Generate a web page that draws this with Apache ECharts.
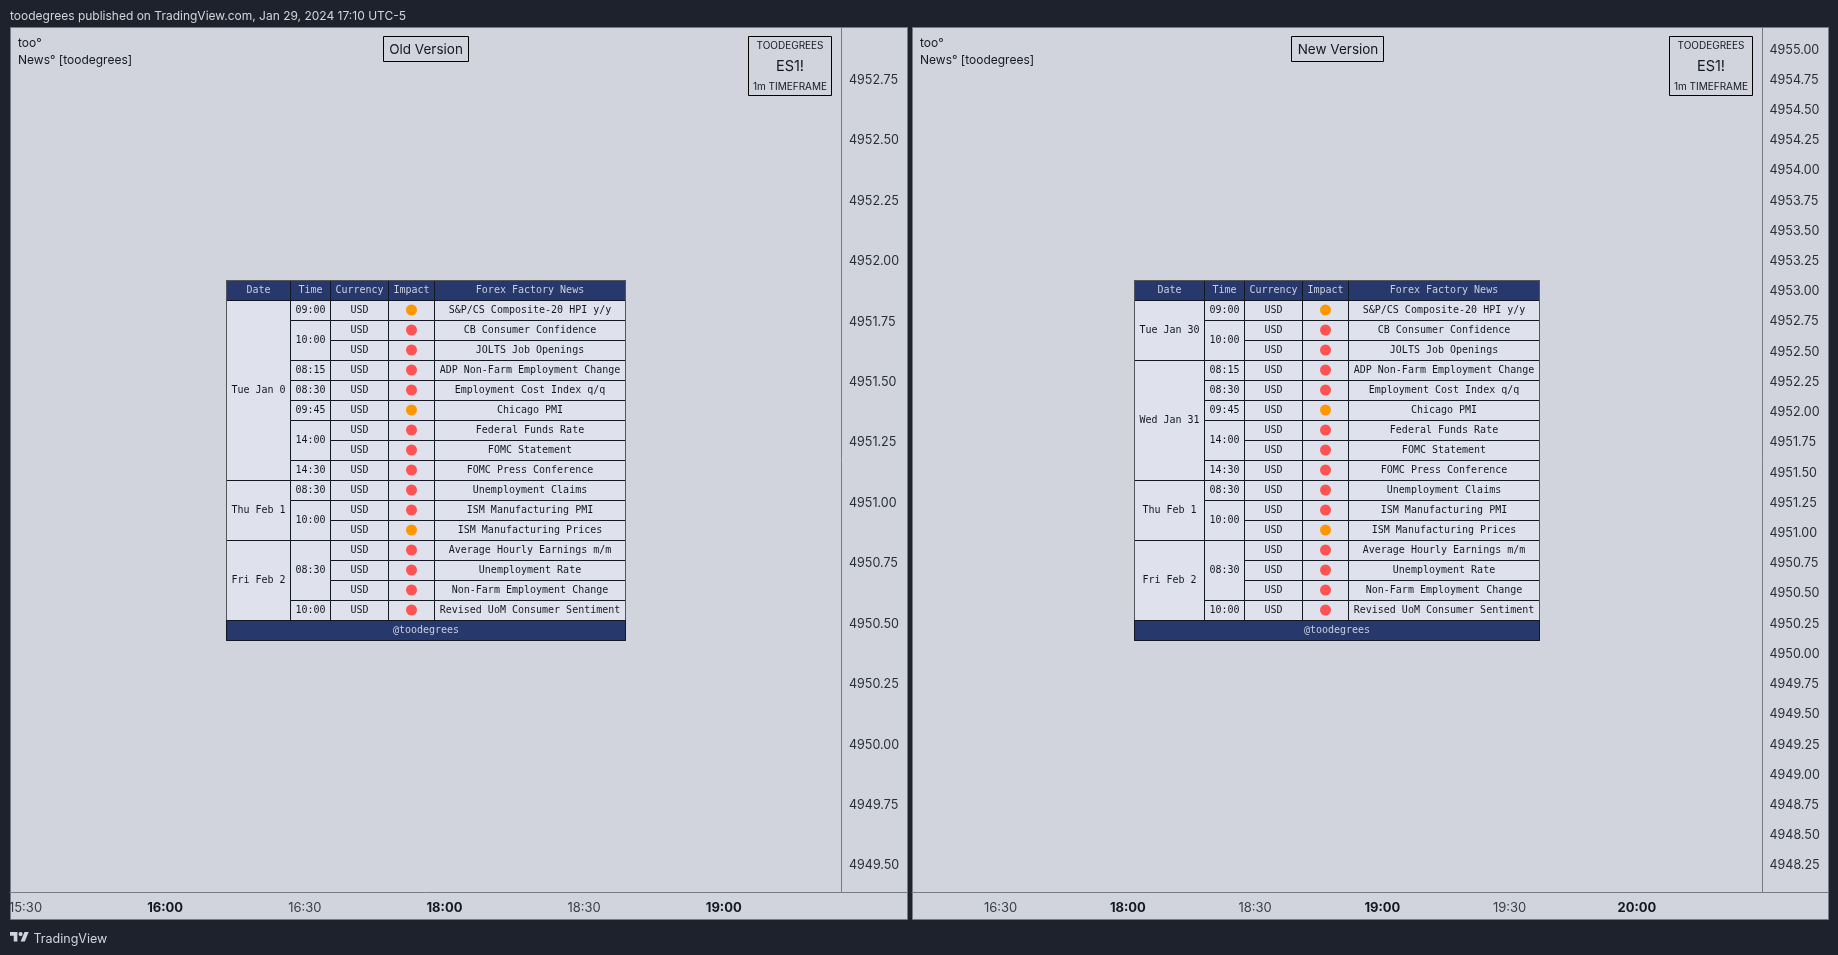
<!DOCTYPE html>
<html>
<head>
<meta charset="utf-8">
<title>News tables</title>
<script src="https://cdn.jsdelivr.net/npm/echarts@6/dist/echarts.min.js"></script>
<style>
html, body { margin: 0; padding: 0; background: #1e222d; }
#main { width: 1838px; height: 955px; }
</style>
</head>
<body>
<div id="main"></div>
<script>
var tableColumns = ['Date', 'Time', 'Currency', 'Impact', 'Forex Factory News'];
var rowKeys = ['r0', 'r1', 'r2', 'r3', 'r4', 'r5', 'r6', 'r7', 'r8', 'r9', 'r10', 'r11', 'r12', 'r13', 'r14', 'r15', 'r16'];
var newsTitles = ['S&P/CS Composite-20 HPI y/y', 'CB Consumer Confidence', 'JOLTS Job Openings', 'ADP Non-Farm Employment Change', 'Employment Cost Index q/q', 'Chicago PMI', 'Federal Funds Rate', 'FOMC Statement', 'FOMC Press Conference', 'Unemployment Claims', 'ISM Manufacturing PMI', 'ISM Manufacturing Prices', 'Average Hourly Earnings m/m', 'Unemployment Rate', 'Non-Farm Employment Change', 'Revised UoM Consumer Sentiment'];
var newsImpact = ['med', 'high', 'high', 'high', 'high', 'med', 'high', 'high', 'high', 'high', 'high', 'med', 'high', 'high', 'high', 'high'];
// [label, first row, last row]
var timeSpans = [['09:00', 0, 0], ['10:00', 1, 2], ['08:15', 3, 3], ['08:30', 4, 4], ['09:45', 5, 5], ['14:00', 6, 7], ['14:30', 8, 8], ['08:30', 9, 9], ['10:00', 10, 11], ['08:30', 12, 14], ['10:00', 15, 15]];
var oldDates = [['Tue Jan 0', 0, 8], ['Thu Feb 1', 9, 11], ['Fri Feb 2', 12, 15]];
var newDates = [['Tue Jan 30', 0, 2], ['Wed Jan 31', 3, 8], ['Thu Feb 1', 9, 11], ['Fri Feb 2', 12, 15]];

var oldPriceTicks = [4952.75, 4952.5, 4952.25, 4952, 4951.75, 4951.5, 4951.25, 4951, 4950.75, 4950.5, 4950.25, 4950, 4949.75, 4949.5];
var newPriceTicks = [4955, 4954.75, 4954.5, 4954.25, 4954, 4953.75, 4953.5, 4953.25, 4953, 4952.75, 4952.5, 4952.25, 4952, 4951.75, 4951.5, 4951.25, 4951, 4950.75, 4950.5, 4950.25, 4950, 4949.75, 4949.5, 4949.25, 4949, 4948.75, 4948.5, 4948.25];
// bar index (1m bars) -> label
var oldTimeBars = [0, 30, 60, 90, 120, 150];
var oldTimeLabels = ['15:30', '16:00', '16:30', '18:00', '18:30', '19:00'];
var newTimeBars = [0, 30, 60, 90, 120, 150];
var newTimeLabels = ['16:30', '18:00', '18:30', '19:00', '19:30', '20:00'];

var MONO = '"DejaVu Sans Mono", monospace';
var SANS = 'Inter, "Liberation Sans", sans-serif';
var PANE = '#d1d4dc', DARK = '#1e222d', EDGE = '#787b86', NAVY = '#27396c', CELL = '#dfe2ec', INK = '#131722';
var impactColors = {high: '#ff5252', med: '#ff9800'};

function tableBody(dates) {
    var cells = [];
    dates.forEach(function (d) {
        cells.push({coord: [0, [d[1], d[2]]], mergeCells: true, value: d[0]});
    });
    timeSpans.forEach(function (t) {
        cells.push({coord: [1, [t[1], t[2]]], mergeCells: true, value: t[0]});
    });
    newsTitles.forEach(function (n, i) {
        cells.push({coord: [2, i], value: 'USD'});
        cells.push({coord: [4, i], value: n});
    });
    cells.push({
        coord: [[0, 4], 16], mergeCells: true, value: '@toodegrees',
        label: {color: '#c9cede'},
        itemStyle: {color: NAVY}
    });
    return cells;
}

function tableMatrix(left, widths, dates) {
    var total = widths.reduce(function (a, b) { return a + b; }, 0);
    return {
        z: 3,
        left: left, top: 280, width: total, height: 360,
        x: {
            levelSize: 20,
            data: tableColumns.map(function (c, i) { return {value: c, size: widths[i]}; }),
            label: {color: '#c9cede', fontFamily: MONO, fontSize: 10},
            itemStyle: {color: NAVY, borderColor: INK, borderWidth: 1},
            dividerLineStyle: {color: INK, width: 1}
        },
        y: {
            show: false,
            data: rowKeys.map(function (k) { return {value: k, size: 20}; })
        },
        body: {
            data: tableBody(dates),
            label: {color: INK, fontFamily: MONO, fontSize: 10},
            itemStyle: {color: CELL, borderColor: INK, borderWidth: 1}
        }
    };
}

function impactSeries(matrixIndex, level) {
    var pts = [];
    newsImpact.forEach(function (v, i) {
        if (v === level) { pts.push([3, i]); }
    });
    return {
        type: 'scatter', coordinateSystem: 'matrix', matrixIndex: matrixIndex,
        symbolSize: 11, silent: true, z: 5,
        itemStyle: {color: impactColors[level], opacity: 1},
        data: pts
    };
}

function priceAxis(gridIndex, min, max, ticks) {
    return {
        type: 'value', gridIndex: gridIndex, position: 'right', min: min, max: max, scale: true,
        splitLine: {show: false},
        axisTick: {show: false},
        axisLine: {show: true, onZero: false, lineStyle: {color: EDGE, width: 1}},
        axisLabel: {
            customValues: ticks, margin: 7.5, color: '#2a2e39', fontFamily: SANS, fontSize: 12.5,
            hideOverlap: false,
            formatter: function (v) { return v.toFixed(2); }
        }
    };
}

function timeAxis(gridIndex, min, max, bars, labels) {
    return {
        type: 'value', gridIndex: gridIndex, position: 'bottom', min: min, max: max,
        splitLine: {show: false},
        axisTick: {show: false},
        axisLine: {show: true, onZero: false, lineStyle: {color: EDGE, width: 1}},
        axisLabel: {
            customValues: bars, margin: 9.5, hideOverlap: false,
            formatter: function (v) {
                var s = labels[bars.indexOf(v)];
                return s.slice(-2) === '00' ? '{hour|' + s + '}' : '{half|' + s + '}';
            },
            rich: {
                hour: {fontFamily: SANS, fontSize: 13, fontWeight: 'bold', color: INK},
                half: {fontFamily: SANS, fontSize: 13, color: '#3a3e4a'}
            }
        }
    };
}

function txt(x, y, s, size, align, color) {
    return {
        type: 'text', x: x, y: y, z: 20,
        style: {text: s, fill: color || INK, font: size + 'px ' + SANS, textAlign: align || 'left', textVerticalAlign: 'middle'}
    };
}

function box(x, y, w, h) {
    return {
        type: 'rect', z: 19, shape: {x: x + 0.5, y: y + 0.5, width: w, height: h},
        style: {fill: 'none', stroke: '#000', lineWidth: 1}
    };
}

function pane(x, w) {
    return {
        type: 'rect', z: -10, shape: {x: x + 0.5, y: 27.5, width: w, height: 892},
        style: {fill: PANE, stroke: EDGE, lineWidth: 1}
    };
}

function logoPart(points) {
    return {type: 'polygon', z: 20, shape: {points: points}, style: {fill: '#d1d4dc'}};
}

var chart = echarts.init(document.getElementById('main'), null, {renderer: 'canvas'});
chart.setOption({
    animation: false,
    backgroundColor: DARK,
    grid: [
        {left: 10, top: 27.5, width: 831.5, height: 864.5},
        {left: 912, top: 27.5, width: 850, height: 864.5}
    ],
    xAxis: [
        timeAxis(0, -3.33, 175.3, oldTimeBars, oldTimeLabels),
        timeAxis(1, -20.9, 179.5, newTimeBars, newTimeLabels)
    ],
    yAxis: [
        priceAxis(0, 4949.391, 4952.968, oldPriceTicks),
        priceAxis(1, 4948.032, 4955.184, newPriceTicks)
    ],
    matrix: [
        tableMatrix(226.5, [64, 40, 58, 46, 190.5], oldDates),
        tableMatrix(1134.5, [70, 40, 58, 46, 190.5], newDates)
    ],
    series: [
        impactSeries(0, 'high'), impactSeries(0, 'med'),
        impactSeries(1, 'high'), impactSeries(1, 'med')
    ],
    graphic: [
        pane(10, 897), pane(912, 916),
        {type: 'rect', z: 15, shape: {x: 0, y: 893, width: 10, height: 26}, style: {fill: DARK}},
        {type: 'line', z: 3, shape: {x1: 841, y1: 892.5, x2: 907, y2: 892.5}, style: {stroke: EDGE, lineWidth: 1}},
        {type: 'line', z: 3, shape: {x1: 1762, y1: 892.5, x2: 1828, y2: 892.5}, style: {stroke: EDGE, lineWidth: 1}},
        txt(10, 16.5, 'toodegrees published on TradingView.com, Jan 29, 2024 17:10 UTC-5', 12, 'left', '#d1d4dc'),
        txt(18, 43.5, 'too°', 12), txt(18, 60.5, 'News° [toodegrees]', 12),
        txt(920, 43.5, 'too°', 12), txt(920, 60.5, 'News° [toodegrees]', 12),
        box(383, 36, 85, 25), txt(426, 49.5, 'Old Version', 13.5, 'center'),
        box(1291, 36, 92, 25), txt(1338, 49.5, 'New Version', 13.5, 'center'),
        box(748, 36, 83, 59), txt(790, 46, 'TOODEGREES', 10, 'center'), txt(790, 66.5, 'ES1!', 14.5, 'center'), txt(790, 87, '1m TIMEFRAME', 10, 'center'),
        box(1669, 36, 83, 59), txt(1711, 46, 'TOODEGREES', 10, 'center'), txt(1711, 66.5, 'ES1!', 14.5, 'center'), txt(1711, 87, '1m TIMEFRAME', 10, 'center'),
        logoPart([[17.4, 941.5], [13.7, 941.5], [13.7, 935.7], [10, 935.7], [10, 932], [17.4, 932]]),
        logoPart([[24.8, 941.5], [20.6, 941.5], [24.5, 932], [28.7, 932]]),
        {type: 'circle', z: 20, shape: {cx: 20.6, cy: 934.1, r: 2.1}, style: {fill: '#d1d4dc'}},
        txt(33.5, 939, 'TradingView', 12.5, 'left', '#d1d4dc')
    ]
});
</script>
</body>
</html>
